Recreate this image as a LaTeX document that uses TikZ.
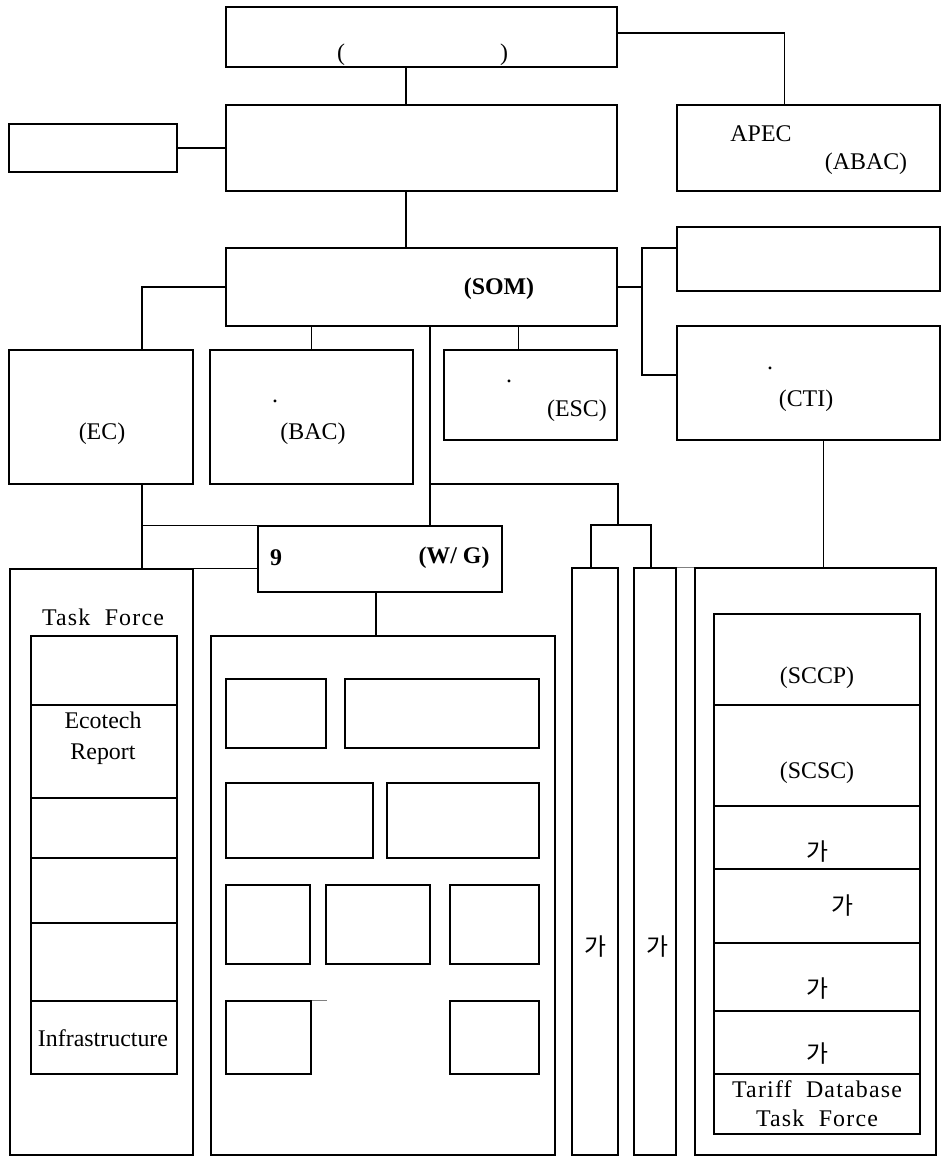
\documentclass[tikz,border=0pt]{standalone}
\usepackage{fontspec}
\setmainfont{Liberation Serif}
\newfontfamily\krfont{Noto Sans CJK KR}
\newfontfamily\spaced[LetterSpace=5]{Liberation Serif}
\usetikzlibrary{positioning, fit, calc}

\tikzset{
  orgbox/.style={draw, rectangle, inner sep=0pt, line width=0.7pt},
  link/.style={line width=0.7pt},
  lbl/.style={inner sep=0pt, font=\fontsize{13.6}{17}\selectfont, align=center},
  lblb/.style={lbl, font=\fontsize{13.6}{17}\selectfont\bfseries},
}

\begin{document}
\begin{tikzpicture}[x=0.02cm, y=-0.02cm]
  \useasboundingbox (0,0) rectangle (943,1159);

  % Upper levels
  \node[orgbox, fit={(226,7) (617,67)}] (leaders) {};
  \node[orgbox, fit={(226,105) (617,191)}] (council) {};
  \node[orgbox, fit={(9,124) (177,172)}] (advisor) {};
  \node[orgbox, fit={(677,105) (940,191)}] (abac) {};
  \node[orgbox, fit={(226,248) (617,326)}] (som) {};
  \node[orgbox, fit={(677,227) (940,291)}] (somside) {};
  \node[orgbox, fit={(677,326) (940,440)}] (cti) {};

  % Committees
  \node[orgbox, fit={(9,350) (193,484)}] (ec) {};
  \node[orgbox, fit={(210,350) (413,484)}] (bac) {};
  \node[orgbox, fit={(444,350) (617,440)}] (esc) {};
  \node[orgbox, fit={(258,526) (502,592)}] (wg) {};

  % Columns
  \node[orgbox, fit={(10,569) (193,1155)}] (tfcol) {};
  \node[orgbox, fit={(211,636) (555,1155)}] (wgcol) {};
  \node[orgbox, fit={(572,568) (618,1155)}] (ptA) {};
  \node[orgbox, fit={(634,568) (676,1155)}] (ptB) {};
  \node[orgbox, fit={(695,568) (936,1155)}] (ctcol) {};

  % Task Force rows
  \foreach \ya/\yb [count=\i] in {636/705, 705/798, 798/858, 858/923, 923/1001, 1001/1074}
    \node[orgbox, fit={(31,\ya) (177,\yb)}] (tf\i) {};

  % CTI rows
  \foreach \ya/\yb [count=\i] in {614/705, 705/806, 806/869, 869/943, 943/1011, 1011/1074, 1074/1134}
    \node[orgbox, fit={(714,\ya) (920,\yb)}] (sc\i) {};

  % Working group boxes
  \foreach \xa/\ya/\xb/\yb [count=\i] in {226/679/326/748, 345/679/539/748,
      226/783/373/858, 387/783/539/858,
      226/885/310/964, 326/885/430/964, 450/885/539/964,
      226/1001/311/1074, 450/1001/539/1074}
    \node[orgbox, fit={(\xa,\ya) (\xb,\yb)}] (wgb\i) {};
  \draw[link, gray] (wgb8.north east) -- ++(15,0);

  % Connectors
  \coordinate (spine) at (406,0);
  \draw[link] (leaders.south -| spine) -- (council.north -| spine);
  \draw[link] (council.south -| spine) -- (som.north -| spine);
  \draw[link] ($(leaders.east)+(0,-4)$) -| ($(abac.north)+(-24,0)$);
  \draw[link] (advisor.east) -- (advisor.east -| council.west);

  \coordinate (rj) at (642,0);
  \draw[link] (som.east) -- (som.east -| rj);
  \draw[link] ($(somside.west)+(0,-11)$) coordinate (r1) -- (r1 -| rj) |- ($(cti.west)+(0,-8)$);

  \draw[link] (som.west) -| ($(ec.north)+(41,0)$);
  \draw[link] (bac.north) -- (bac.north |- som.south);
  \draw[link] ($(esc.north)+(-12,0)$) coordinate (e1) -- (e1 |- som.south);

  \coordinate (fork) at (430,484);
  \coordinate (bracket) at (618,525);
  \draw[link] (som.south -| fork) -- (wg.north -| fork);
  \draw[link] (fork) -| (bracket);
  \draw[link] ($(ptA.north)+(-4,0)$) |- (bracket) -| ($(ptB.north)+(-4,0)$);

  \coordinate (ecx) at (142,0);
  \draw[link] (ec.south -| ecx) -- (tfcol.north -| ecx);
  \draw[link] (ecx |- wg.north) -- (wg.north west);
  \draw[link] (tfcol.north east) -- (tfcol.north east -| wg.west);
  \draw[link] ($(wg.south)+(-4,0)$) coordinate (w1) -- (w1 |- wgcol.north);
  \draw[link] ($(cti.south)+(15,0)$) coordinate (c1) -- (c1 |- ctcol.north);
  \draw[link, gray] (ptB.north east) -- (ctcol.north west);

  % Labels
  \node[lbl] (lpar) at (341,55) {(};
  \node[lbl] (rpar) at (504,55) {)};
  \node[lbl] (tapec) at (761,134) {APEC};
  \node[lbl] (tabac) at (866,164) {(ABAC)};
  \node[lblb] (tsom) at (499,289) {(SOM)};
  \node[lbl] (tec) at (102,434) {(EC)};
  \node[lbl] (tbacdot) at (275,401) {.};
  \node[lbl] (tbac) at (313,434) {(BAC)};
  \node[lbl] (tescdot) at (509,381) {.};
  \node[lbl] (tesc) at (577,411) {(ESC)};
  \node[lbl] (tctidot) at (770,368) {.};
  \node[lbl] (tcti) at (806,401) {(CTI)};
  \node[lblb] (tnine) at (276,558) {9};
  \node[lblb] (twg) at (454,558) {(W/ G)};

  \node[lbl, font=\fontsize{13.6}{17}\spaced] (ttf) at (103,617) {Task\ \ Force};
  \node[lbl, font=\fontsize{13.6}{17.6}\selectfont] (teco) at (103,738) {Ecotech\\Report};
  \node[lbl] (tinfra) at (103,1038) {Infrastructure};

  \node[lbl] (tsccp) at (817,678) {(SCCP)};
  \node[lbl] (tscsc) at (817,773) {(SCSC)};
  \node[lbl, font=\fontsize{13.6}{17}\krfont] (tk1) at (817,852) {가};
  \node[lbl, font=\fontsize{13.6}{17}\krfont] (tk2) at (842,906) {가};
  \node[lbl, font=\fontsize{13.6}{17}\krfont] (tk3) at (817,989) {가};
  \node[lbl, font=\fontsize{13.6}{17}\krfont] (tk4) at (817,1054) {가};
  \node[lbl, font=\fontsize{13.6}{16.4}\spaced] (ttariff) at (817,1104) {Tariff\ \ Database\\Task\ \ Force};

  \node[lbl, font=\fontsize{13.6}{17}\krfont] (tpa) at (595,947) {가};
  \node[lbl, font=\fontsize{13.6}{17}\krfont] (tpb) at (657,947) {가};
\end{tikzpicture}
\end{document}
